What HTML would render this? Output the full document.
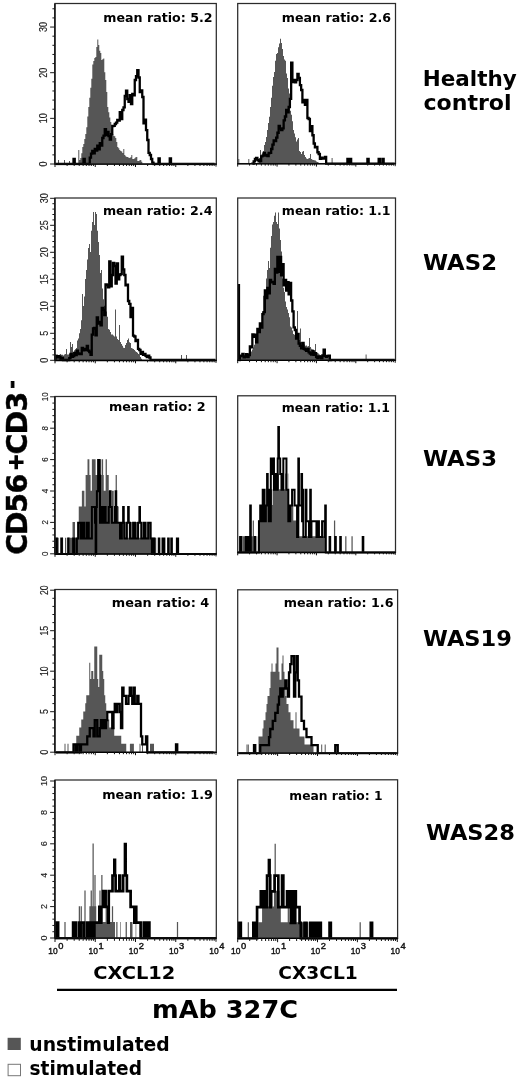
<!DOCTYPE html>
<html lang="en">
<head>
<meta charset="utf-8">
<title>CD56+CD3- chemotaxis histograms</title>
<style>
html,body{margin:0;padding:0;background:#fff;}
body{width:520px;height:1080px;overflow:hidden;}
svg{display:block;will-change:transform;}
text{font-family:"DejaVu Sans","Liberation Sans",sans-serif;font-weight:bold;fill:#000;}
.mr{font-size:12.1px;}
.nm{font-size:21px;}
.big{font-size:28.5px;stroke:#000;stroke-width:0.45px;}
.cx{font-size:18.2px;}
.mab{font-size:24.8px;}
.lg{font-size:19.6px;}
.tk{font-family:"Liberation Sans",sans-serif;font-weight:normal;fill:#222;stroke:#222;stroke-width:0.15px;}
.xl{font-family:"Liberation Sans",sans-serif;font-weight:normal;font-size:9.5px;fill:#111;stroke:#111;stroke-width:0.4px;}
.xs{font-family:"Liberation Sans",sans-serif;font-weight:normal;font-size:8.4px;fill:#111;stroke:#111;stroke-width:0.4px;}
</style>
</head>
<body>
<svg width="520" height="1080" viewBox="0 0 520 1080">
<rect width="520" height="1080" fill="#fff"/>
<g>
<clipPath id="cp00"><rect x="55" y="3.5" width="161.6" height="162.1"/></clipPath>
<g clip-path="url(#cp00)">
<path d="M57 163.7V163.7H58V160H59V163.7Z" fill="#565656"/>
<path d="M63 163.7V163.7H64V160H65V163.7Z" fill="#565656"/>
<path d="M68 163.7V163.7H69V161H70V163.7Z" fill="#565656"/>
<path d="M77.3 163.7V163.7H78.3V150H79.3V160H80.3V158H81.3V153.21H82.3V147H83.3V144.1H84.3V138.93H85.3V134H86.3V127.23H87.3V116.55H88.3V107H89.3V97.74H90.3V87.7H91.3V78.68H92.3V64.6H93.3V61.05H94.3V58H95.3V57H96.3V47H97.3V39.6H98.3V45H99.3V50.78H100.3V53H101.3V60H102.3V59.32H103.3V58.5H104.3V72.25H105.3V80H106.3V92.06H107.3V107H108.3V112.2H109.3V117.46H110.3V122H111.3V129.27H112.3V134H113.3V135.68H114.3V136.33H115.3V138H116.3V142H117.3V147H118.3V148.33H119.3V150H120.3V151.09H121.3V151.58H122.3V153H123.3V149H124.3V155H125.3V156.26H126.3V157H127.3V156.94H128.3V157.79H129.3V158H130.3V157.14H131.3V155H132.3V159H133.3V158.91H134.3V158.26H135.3V157.32H136.3V157H137.3V161H138.3V160.93H139.3V160.35H140.3V160H141.3V161.81H142.3V163.7Z" fill="#565656"/>
<path d="M56 164.3V164H57.25V164H58.5V164H59.75V164H61V164H62.25V164H63.5V164H64.75V164H66V164H67.25V164H68.5V164H69.75V164H71V164H72.25V164H73.5V158.89H74.75V164H76V164H77.25V164H78.5V164H79.75V164H81V164H82.25V164H83.5V159H84.75V164H86V164H87.25V164H88.5V164H89.75V157.54H91V153.59H92.25V151H93.5V153.35H94.75V148.8H96V150.56H97.25V145.76H98.5V149.24H99.75V143.2H101V145.51H102.25V138H103.5V135.63H104.75V129.19H106V135.03H107.25V132H108.5V136.13H109.75V139.6H111V134.16H112.25V126H113.5V125.79H114.75V124H116V122.69H117.25V120H118.5V120.59H119.75V112.13H121V119.11H122.25V110H123.5V107.47H124.75V96H126V90.56H127.25V99H128.5V101.91H129.75V95.1H131V104H132.25V94H133.5V95.47H134.75V80H136V76.25H137.25V70.13H138.5V77.48H139.75V92H141V90.32H142.25V97H143.5V123.28H144.75V119.77H146V130.18H147.25V140H148.5V152.9H149.75V155H151V159H152.25V162.57H153.5V164H154.75V164H156V164H157.25V164H158.5V158.5H159.75V164H161V164H162.25V164H163.5V164H164.75V164H166V164H167.25V164H168.5V164H169.75V158.5H171V164H172.25V164H173.5V164H174.75V164H176V164H177.25V164H178.5V164H179.75V164H181V164H182.25V164H183.5V164H184.75V164H186V164H187.25V164H188.5V164H189.75V164H191V164H192.25V164H193.5V164H194.75V164H196V164H197.25V164H198.5V164H199.75V164H201V164H202.25V164H203.5V164H204.75V164H206V164H207.25V164H208.5V164H209.75V164H211V164H212.25V164H213.5V164.3" fill="none" stroke="#000" stroke-width="2.3" stroke-linejoin="miter"/>
</g>
<rect x="55" y="3.5" width="161.3" height="160.5" fill="none" stroke="#2b2b2b" stroke-width="1.25"/>
<line x1="54.5" y1="164.2" x2="216.8" y2="164.2" stroke="#000" stroke-width="1.3"/>
<path d="M55 164v3M67.12 164v2M74.2 164v2M79.23 164v2M83.13 164v2M86.32 164v2M89.02 164v2M91.35 164v2M93.41 164v2M95.25 164v3M107.37 164v2M114.45 164v2M119.48 164v2M123.38 164v2M126.57 164v2M129.27 164v2M131.6 164v2M133.66 164v2M135.5 164v3M147.62 164v2M154.7 164v2M159.73 164v2M163.63 164v2M166.82 164v2M169.52 164v2M171.85 164v2M173.91 164v2M175.75 164v3M187.87 164v2M194.95 164v2M199.98 164v2M203.88 164v2M207.07 164v2M209.77 164v2M212.1 164v2M214.16 164v2M216 164v2.6" stroke="#111" stroke-width="1" fill="none"/>
</g>
<g>
<clipPath id="cp01"><rect x="237.7" y="3.5" width="158.1" height="161.7"/></clipPath>
<g clip-path="url(#cp01)">
<path d="M238.3 163.3V159H239.3V163.3H240.3V163.3Z" fill="#565656"/>
<path d="M248.3 163.3V159H249.3V163.3H250.3V163.3Z" fill="#565656"/>
<path d="M330.6 163.3V163.3H331.6V158H332.6V163.3Z" fill="#565656"/>
<path d="M258 163.3V163.3H259V158H260V150H261V157H262V153.26H263V151H264V145H265V142.02H266V137.03H267V130H268V123.05H269V116.64H270V107H271V97.7H272V85.8H273V76.97H274V72H275V60.8H276V54.05H277V53H278V47.3H279V43.53H280V38.7H281V43H282V49H283V56H284V59.39H285V60.8H286V73.53H287V78H288V88.44H289V93.5H290V110.8H291V114.64H292V121.21H293V130H294V133.61H295V137.29H296V141.5H297V139.5H298V138H299V151H300V152.05H301V154H302V151.79H303V151H304V155H305V156.93H306V158.46H307V159H308V158.61H309V158H310V154H311V159H312V159.75H313V159.95H314V160.26H315V160.5H316V161.45H317V162.1H318V162.44H319V162.99H320V163.3H321V163.3Z" fill="#565656"/>
<path d="M252.4 163.9V163.6H253.65V161.45H254.9V159H256.15V157.87H257.4V160H258.65V161.29H259.9V161H261.15V156.28H262.4V155.61H263.65V153H264.9V155.53H266.15V155H267.4V156.12H268.65V153H269.9V152.83H271.15V149H272.4V144.57H273.65V140.51H274.9V141.04H276.15V137.7H277.4V132.77H278.65V126H279.9V128.68H281.15V130H282.4V128.44H283.65V120.29H284.9V116.49H286.15V110H287.4V112.4H288.65V107H289.9V98.81H291.15V62.7H292.4V82.12H293.65V80H294.9V82.41H296.15V80H297.4V73.87H298.65V78H299.9V85.05H301.15V90H302.4V102.39H303.65V100H304.9V104.95H306.15V100H307.4V117.98H308.65V119H309.9V131.14H311.15V126.26H312.4V135.23H313.65V143.5H314.9V147.4H316.15V147H317.4V152.24H318.65V154H319.9V158.9H321.15V157.54H322.4V158.5H323.65V158.7H324.9V157H326.15V163.6H327.4V163.6H328.65V163.6H329.9V163.6H331.15V163.6H332.4V163.6H333.65V163.6H334.9V163.6H336.15V163.6H337.4V163.6H338.65V163.6H339.9V163.6H341.15V163.6H342.4V163.6H343.65V163.6H344.9V163.6H346.15V163.6H347.4V158.8H348.65V163.6H349.9V158.8H351.15V163.6H352.4V163.6H353.65V163.6H354.9V163.6H356.15V163.6H357.4V163.6H358.65V163.6H359.9V163.6H361.15V163.6H362.4V163.6H363.65V163.6H364.9V163.6H366.15V163.6H367.4V158.8H368.65V163.6H369.9V163.6H371.15V163.6H372.4V163.6H373.65V163.6H374.9V163.6H376.15V163.6H377.4V163.6H378.65V158.8H379.9V163.6H381.15V163.6H382.4V158.8H383.65V163.6H384.9V163.6H386.15V163.6H387.4V163.6H388.65V163.6H389.9V163.6H391.15V163.6H392.4V163.6H393.65V163.9" fill="none" stroke="#000" stroke-width="2.3" stroke-linejoin="miter"/>
</g>
<rect x="237.7" y="3.5" width="157.8" height="160.1" fill="none" stroke="#2b2b2b" stroke-width="1.25"/>
<line x1="237.2" y1="163.8" x2="396" y2="163.8" stroke="#000" stroke-width="1.3"/>
<path d="M237.7 163.6v3M249.55 163.6v2M256.49 163.6v2M261.41 163.6v2M265.22 163.6v2M268.34 163.6v2M270.98 163.6v2M273.26 163.6v2M275.27 163.6v2M277.07 163.6v3M288.93 163.6v2M295.86 163.6v2M300.78 163.6v2M304.6 163.6v2M307.71 163.6v2M310.35 163.6v2M312.63 163.6v2M314.65 163.6v2M316.45 163.6v3M328.3 163.6v2M335.24 163.6v2M340.16 163.6v2M343.97 163.6v2M347.09 163.6v2M349.73 163.6v2M352.01 163.6v2M354.02 163.6v2M355.82 163.6v3M367.68 163.6v2M374.61 163.6v2M379.53 163.6v2M383.35 163.6v2M386.46 163.6v2M389.1 163.6v2M391.38 163.6v2M393.4 163.6v2M395.2 163.6v2.6" stroke="#111" stroke-width="1" fill="none"/>
</g>
<g>
<clipPath id="cp10"><rect x="55" y="198" width="161.6" height="163.9"/></clipPath>
<g clip-path="url(#cp10)">
<path d="M55 360V354H56V354.7H57V354.76H58V355H59V354.66H60V354H61V354.73H62V354.87H63V355.5H64V354.45H65V354.08H66V349H67V354.5H68V354.42H69V354H70V342H71V347H72V344H73V352H74V350.37H75V349.14H76V348H77V340.45H78V338.5H79V333.35H80V329H81V320.2H82V294H83V306H84V296.54H85V279H86V270H87V259.6H88V248H89V244H90V252H91V230.8H92V222H93V212H94V225H95V212H96V214H97V230.8H98V242H99V255H100V273H101V270H102V288.5H103V299.3H104V305.8H105V307.73H106V311.5H107V316.82H108V329H109V329.86H110V331.9H111V334.6H112V334.62H113V335.42H114V336.5H115V309.6H116V336.5H117V338.9H118V340H119V325H120V342H121V343.92H122V345.77H123V347.8H124V348H125V344.92H126V343H127V339.98H128V338.5H129V342.24H130V343H131V348H132V348.4H133V349.01H134V350H135V351.21H136V352H137V352.71H138V353.96H139V355H140V356.93H141V358.73H142V360Z" fill="#565656"/>
<path d="M180 360V360H181V355H182V360Z" fill="#565656"/>
<path d="M185 360V360H186V355H187V360Z" fill="#565656"/>
<path d="M55.5 360.6V356H56.75V357.26H58V356.15H59.25V357H60.5V359.28H61.75V357.85H63V360H64.25V360H65.5V360H66.75V360H68V360H69.25V358.06H70.5V354H71.75V356.79H73V356H74.25V352.92H75.5V355.16H76.75V350.66H78V353.32H79.25V354H80.5V354.2H81.75V348H83V350.24H84.25V349H85.5V349.98H86.75V346H88V350.54H89.25V352H90.5V354.8H91.75V334.6H93V328.49H94.25V328H95.5V335.27H96.75V317.51H98V323.57H99.25V322H100.5V325.42H101.75V307.86H103V309.85H104.25V315H105.5V284.51H106.75V285H108V287.35H109.25V261.5H110.5V286.26H111.75V275H113V262.83H114.25V266H115.5V283.48H116.75V263.5H118V279.32H119.25V275H120.5V274.11H121.75V256.7H123V269.47H124.25V275H125.5V285.35H126.75V284.6H128V301.01H129.25V303.96H130.5V317.06H131.75V308H133V335.53H134.25V336.5H135.5V341.01H136.75V340H138V348.79H139.25V350H140.5V353.97H141.75V352H143V354.87H144.25V353.94H145.5V355.8H146.75V357.05H148V355.67H149.25V357.5H150.5V360H151.75V360H153V360H154.25V360H155.5V360H156.75V360H158V360H159.25V360H160.5V360H161.75V360H163V360H164.25V360H165.5V360H166.75V360H168V360H169.25V360H170.5V360H171.75V360H173V360H174.25V360H175.5V360H176.75V360H178V360H179.25V360H180.5V360H181.75V360H183V360H184.25V360H185.5V360H186.75V360H188V360H189.25V360H190.5V360H191.75V360H193V360H194.25V360H195.5V360H196.75V360H198V360H199.25V360H200.5V360H201.75V360H203V360H204.25V360H205.5V360H206.75V360H208V360H209.25V360H210.5V360H211.75V360H213V360H214.25V360.6" fill="none" stroke="#000" stroke-width="2.3" stroke-linejoin="miter"/>
</g>
<rect x="55" y="198" width="161.3" height="162.3" fill="none" stroke="#2b2b2b" stroke-width="1.25"/>
<line x1="54.5" y1="360.5" x2="216.8" y2="360.5" stroke="#000" stroke-width="1.3"/>
<path d="M55 360.3v3M67.12 360.3v2M74.2 360.3v2M79.23 360.3v2M83.13 360.3v2M86.32 360.3v2M89.02 360.3v2M91.35 360.3v2M93.41 360.3v2M95.25 360.3v3M107.37 360.3v2M114.45 360.3v2M119.48 360.3v2M123.38 360.3v2M126.57 360.3v2M129.27 360.3v2M131.6 360.3v2M133.66 360.3v2M135.5 360.3v3M147.62 360.3v2M154.7 360.3v2M159.73 360.3v2M163.63 360.3v2M166.82 360.3v2M169.52 360.3v2M171.85 360.3v2M173.91 360.3v2M175.75 360.3v3M187.87 360.3v2M194.95 360.3v2M199.98 360.3v2M203.88 360.3v2M207.07 360.3v2M209.77 360.3v2M212.1 360.3v2M214.16 360.3v2M216 360.3v2.6" stroke="#111" stroke-width="1" fill="none"/>
</g>
<g>
<clipPath id="cp11"><rect x="237.7" y="198" width="158.1" height="163.8"/></clipPath>
<g clip-path="url(#cp11)">
<path d="M238 359.9V355H239V355.44H240V355.38H241V355.38H242V355.69H243V356.03H244V356H245V355.71H246V355.5H247V355.15H248V355.49H249V355H250V353.01H251V351.41H252V349.6H253V347.44H254V344.73H255V343.05H256V340.92H257V340H258V333.03H259V328.36H260V324.98H261V322.7H262V311.39H263V295.8H264V305H265V296.62H266V278.5H267V270H268V261H269V268H270V247.7H271V236H272V224.6H273V222H274V215.84H275V212.5H276V222H277V224H278V212.5H279V228.5H280V240H281V251.5H282V278.5H283V287.66H284V292H285V301.51H286V307H287V309.56H288V313H289V317.31H290V326.5H291V327.42H292V330.51H293V334H294V334.72H295V336.37H296V338H297V311H298V338H299V340H300V328.5H301V342H302V343.45H303V344.01H304V344.49H305V345.8H306V345.43H307V346.45H308V346H309V338H310V347H311V348.76H312V349.23H313V349.6H314V351H315V344H316V352H317V352.97H318V353.58H319V354.5H320V355H321V355.18H322V355.44H323V356H324V349.6H325V356H326V356.45H327V357.6H328V358H329V358.81H330V359.51H331V359.9Z" fill="#565656"/>
<path d="M364.6 359.9V359.9H365.6V354.5H366.6V359.9Z" fill="#565656"/>
<path d="M238.6 360.5V360H239.85V356H241.1V355.61H242.35V354H243.6V357.47H244.85V356.5H246.1V354.09H247.35V357.22H248.6V355H249.85V346.52H251.1V347.27H252.35V334.43H253.6V336.82H254.85V334.74H256.1V342.29H257.35V328.81H258.6V332.13H259.85V323.35H261.1V327.69H262.35V314.04H263.6V312.17H264.85V290.33H266.1V298.09H267.35V288H268.6V293.31H269.85V280H271.1V282.39H272.35V282H273.6V283.73H274.85V269H276.1V272.71H277.35V257H278.6V271.86H279.85V257H281.1V275.28H282.35V264.24H283.6V285.32H284.85V280H286.1V290.69H287.35V282.13H288.6V294.31H289.85V282.96H291.1V300.51H292.35V311.39H293.6V327.28H294.85V330H296.1V338.48H297.35V334H298.6V343.49H299.85V345.8H301.1V348.42H302.35V343H303.6V348.74H304.85V349.6H306.1V350.77H307.35V349H308.6V352.37H309.85V353.5H311.1V354.61H312.35V351.23H313.6V354.74H314.85V353.12H316.1V357H317.35V358.19H318.6V356.43H319.85V357H321.1V358.37H322.35V355.5H323.6V349.6H324.85V356H326.1V356.84H327.35V356H328.6V355.65H329.85V360.35H331.1V360H332.35V360H333.6V360H334.85V360H336.1V360H337.35V360H338.6V360H339.85V360H341.1V360H342.35V360H343.6V360H344.85V360H346.1V360H347.35V360H348.6V360H349.85V360H351.1V360H352.35V360H353.6V360H354.85V360H356.1V360H357.35V360H358.6V360H359.85V360H361.1V360H362.35V360H363.6V360H364.85V360H366.1V360H367.35V360H368.6V360H369.85V360H371.1V360H372.35V360H373.6V360H374.85V360H376.1V360H377.35V360H378.6V360H379.85V360H381.1V360H382.35V360H383.6V360H384.85V360H386.1V360H387.35V360H388.6V360H389.85V360H391.1V360H392.35V360H393.6V360.5" fill="none" stroke="#000" stroke-width="2.3" stroke-linejoin="miter"/>
<rect x="237.9" y="284" width="2.2" height="76" fill="#000"/>
</g>
<rect x="237.7" y="198" width="157.8" height="162.2" fill="none" stroke="#2b2b2b" stroke-width="1.25"/>
<line x1="237.2" y1="360.4" x2="396" y2="360.4" stroke="#000" stroke-width="1.3"/>
<path d="M237.7 360.2v3M249.55 360.2v2M256.49 360.2v2M261.41 360.2v2M265.22 360.2v2M268.34 360.2v2M270.98 360.2v2M273.26 360.2v2M275.27 360.2v2M277.07 360.2v3M288.93 360.2v2M295.86 360.2v2M300.78 360.2v2M304.6 360.2v2M307.71 360.2v2M310.35 360.2v2M312.63 360.2v2M314.65 360.2v2M316.45 360.2v3M328.3 360.2v2M335.24 360.2v2M340.16 360.2v2M343.97 360.2v2M347.09 360.2v2M349.73 360.2v2M352.01 360.2v2M354.02 360.2v2M355.82 360.2v3M367.68 360.2v2M374.61 360.2v2M379.53 360.2v2M383.35 360.2v2M386.46 360.2v2M389.1 360.2v2M391.38 360.2v2M393.4 360.2v2M395.2 360.2v2.6" stroke="#111" stroke-width="1" fill="none"/>
</g>
<g>
<clipPath id="cp20"><rect x="55" y="396.5" width="161.6" height="158.9"/></clipPath>
<g clip-path="url(#cp20)">
<path d="M55 553.5V553.5H55.62H56.25V537.8H56.88H57.5H58.12H58.75V553.5H59.38H60H60.62H61.25H61.88V537.8H62.5H63.12V553.5H63.75H64.38H65V537.8H65.62H66.25V553.5H66.88H67.5H68.12V537.8H68.75H69.38V553.5H70V537.8H70.62H71.25H71.88H72.5V522.1H73.12H73.75H74.38H75V537.8H75.62H76.25H76.88H77.5H78.12V522.1H78.75V506.4H79.38H80H80.62H81.25H81.88V490.7H82.5H83.12H83.75H84.38V506.4H85H85.62V475H86.25H86.88H87.5V459.3H88.12H88.75H89.38V475H90H90.62V490.7H91.25H91.88V459.3H92.5H93.12H93.75H94.38H95H95.62V475H96.25H96.88H97.5H98.12V459.3H98.75H99.38H100H100.62H101.25V475H101.88V459.3H102.5H103.12V475H103.75V490.7H104.38H105H105.62V459.3H106.25H106.88V475H107.5H108.12H108.75V490.7H109.38H110H110.62V506.4H111.25H111.88V490.7H112.5H113.12H113.75V522.1H114.38H115V506.4H115.62V475H116.25H116.88V522.1H117.5H118.12V506.4H118.75V522.1H119.38V537.8H120H120.62H121.25H121.88H122.5V522.1H123.12H123.75H124.38H125H125.62V537.8H126.25H126.88H127.5H128.12H128.75V522.1H129.38H130V537.8H130.62V522.1H131.25H131.88V537.8H132.5V522.1H133.12H133.75H134.38H135V537.8H135.62V522.1H136.25H136.88H137.5H138.12H138.75V537.8H139.38H140H140.62H141.25V522.1H141.88V537.8H142.5V522.1H143.12H143.75H144.38H145H145.62V537.8H146.25H146.88H147.5H148.12H148.75V522.1H149.38H150H150.62H151.25V537.8H151.88H152.5H153.12H153.75H154.38H155H155.62H156.25V553.5H156.88H157.5H158.12H158.75H159.38H160H160.62H161.25H161.88H162.5H163.12H163.75H164.38H165H165.62H166.25H166.88H167.5H168.12H168.75H169.38H170H170.62H171.25H171.88H172.5H173.12H173.75H174.38H175H175.62H176.25H176.88H177.5H178.12H178.75H179.38H180H180.62H181.25H181.88H182.5H183.12H183.75H184.38H185H185.62H186.25H186.88H187.5H188.12H188.75H189.38H190H190.62H191.25H191.88H192.5H193.12H193.75H194.38H195H195.62H196.25H196.88H197.5H198.12H198.75H199.38H200H200.62H201.25H201.88H202.5H203.12H203.75H204.38H205H205.62H206.25H206.88H207.5H208.12H208.75H209.38H210H210.62H211.25H211.88H212.5H213.12H213.75H214.38H215H215.62H216.25V553.5Z" fill="#565656"/>
<path d="M55 554.1V554.1H55.62V538.4H56.25H56.88V554.1H57.5H58.12H58.75H59.38H60H60.62H61.25V538.4H61.88V554.1H62.5H63.12H63.75H64.38H65H65.62H66.25H66.88H67.5H68.12V538.4H68.75V554.1H69.38H70H70.62H71.25H71.88H72.5H73.12V538.4H73.75H74.38V554.1H75H75.62H76.25H76.88V538.4H77.5H78.12V522.7H78.75H79.38H80H80.62V538.4H81.25H81.88H82.5V522.7H83.12H83.75H84.38V538.4H85H85.62H86.25H86.88V522.7H87.5H88.12H88.75V538.4H89.38H90H90.62H91.25H91.88V507H92.5H93.12H93.75H94.38H95V522.7H95.62V554.1H96.25V507H96.88V491.3H97.5H98.12V459.9H98.75H99.38V475.6H100V522.7H100.62H101.25V507H101.88H102.5H103.12V522.7H103.75H104.38V507H105H105.62V522.7H106.25H106.88H107.5H108.12H108.75V507H109.38H110V491.3H110.62V507H111.25H111.88V522.7H112.5H113.12H113.75H114.38H115V507H115.62V491.3H116.25V507H116.88V522.7H117.5H118.12H118.75H119.38H120V538.4H120.62H121.25H121.88V522.7H122.5H123.12V507H123.75V522.7H124.38V538.4H125H125.62H126.25H126.88V522.7H127.5H128.12V507H128.75V522.7H129.38H130V538.4H130.62H131.25H131.88H132.5H133.12V522.7H133.75H134.38H135V538.4H135.62H136.25H136.88H137.5H138.12V522.7H138.75H139.38V507H140V522.7H140.62H141.25V538.4H141.88H142.5H143.12H143.75V522.7H144.38H145H145.62V538.4H146.25H146.88H147.5H148.12V522.7H148.75H149.38H150H150.62V538.4H151.25H151.88V554.1H152.5V538.4H153.12H153.75H154.38V554.1H155H155.62H156.25H156.88H157.5H158.12H158.75V538.4H159.38V554.1H160H160.62H161.25H161.88H162.5V538.4H163.12H163.75H164.38V554.1H165H165.62H166.25H166.88H167.5H168.12V538.4H168.75V554.1H169.38H170H170.62H171.25V538.4H171.88V554.1H172.5H173.12H173.75H174.38H175H175.62H176.25H176.88V538.4H177.5H178.12V554.1H178.75H179.38H180H180.62H181.25H181.88H182.5H183.12H183.75H184.38H185H185.62H186.25H186.88H187.5H188.12H188.75H189.38H190H190.62H191.25H191.88H192.5H193.12H193.75H194.38H195H195.62H196.25H196.88H197.5H198.12H198.75H199.38H200H200.62H201.25H201.88H202.5H203.12H203.75H204.38H205H205.62H206.25H206.88H207.5H208.12H208.75H209.38H210H210.62H211.25H211.88H212.5H213.12H213.75H214.38H215H215.62H216.25V554.1" fill="none" stroke="#000" stroke-width="2" stroke-linejoin="miter"/>
</g>
<rect x="55" y="396.5" width="161.3" height="157.3" fill="none" stroke="#2b2b2b" stroke-width="1.25"/>
<line x1="54.5" y1="554" x2="216.8" y2="554" stroke="#000" stroke-width="1.3"/>
<path d="M55 553.8v3M67.12 553.8v2M74.2 553.8v2M79.23 553.8v2M83.13 553.8v2M86.32 553.8v2M89.02 553.8v2M91.35 553.8v2M93.41 553.8v2M95.25 553.8v3M107.37 553.8v2M114.45 553.8v2M119.48 553.8v2M123.38 553.8v2M126.57 553.8v2M129.27 553.8v2M131.6 553.8v2M133.66 553.8v2M135.5 553.8v3M147.62 553.8v2M154.7 553.8v2M159.73 553.8v2M163.63 553.8v2M166.82 553.8v2M169.52 553.8v2M171.85 553.8v2M173.91 553.8v2M175.75 553.8v3M187.87 553.8v2M194.95 553.8v2M199.98 553.8v2M203.88 553.8v2M207.07 553.8v2M209.77 553.8v2M212.1 553.8v2M214.16 553.8v2M216 553.8v2.6" stroke="#111" stroke-width="1" fill="none"/>
</g>
<g>
<clipPath id="cp21"><rect x="237.7" y="395.8" width="158.1" height="158.1"/></clipPath>
<g clip-path="url(#cp21)">
<path d="M237.7 552V552H238.32H238.95V536.3H239.57H240.2H240.82H241.45V552H242.07H242.7V536.3H243.32H243.95H244.57H245.2V552H245.82H246.45H247.07H247.7V536.3H248.32V552H248.95H249.57H250.2H250.82V536.3H251.45H252.07H252.7V520.6H253.32H253.95V552H254.57H255.2H255.82V536.3H256.45V552H257.07H257.7V536.3H258.32V520.6H258.95H259.57H260.2H260.82H261.45H262.07V504.9H262.7H263.32H263.95H264.57H265.2H265.82H266.45H267.07H267.7H268.32H268.95H269.57H270.2H270.82V489.2H271.45H272.07V504.9H272.7V489.2H273.32V457.8H273.95H274.57V489.2H275.2H275.82V473.5H276.45H277.07H277.7H278.32H278.95V489.2H279.57H280.2H280.82H281.45V473.5H282.07H282.7H283.32H283.95V489.2H284.57H285.2V473.5H285.82H286.45V489.2H287.07H287.7V473.5H288.32V504.9H288.95H289.57H290.2H290.82H291.45H292.07H292.7H293.32V520.6H293.95H294.57H295.2H295.82H296.45H297.07H297.7H298.32V536.3H298.95H299.57H300.2H300.82H301.45H302.07H302.7H303.32H303.95H304.57H305.2H305.82H306.45H307.07H307.7H308.32H308.95H309.57H310.2H310.82H311.45H312.07H312.7H313.32H313.95H314.57H315.2H315.82H316.45H317.07H317.7H318.32H318.95H319.57H320.2H320.82H321.45H322.07H322.7H323.32H323.95H324.57H325.2H325.82V552H326.45H327.07H327.7H328.32H328.95H329.57H330.2H330.82H331.45H332.07H332.7H333.32H333.95V520.6H334.57H335.2V552H335.82H336.45H337.07H337.7H338.32H338.95H339.57H340.2H340.82H341.45H342.07H342.7H343.32H343.95H344.57H345.2V536.3H345.82H346.45V552H347.07H347.7H348.32H348.95H349.57H350.2H350.82H351.45V536.3H352.07H352.7V552H353.32H353.95H354.57H355.2H355.82H356.45H357.07H357.7H358.32H358.95H359.57H360.2H360.82H361.45H362.07H362.7H363.32H363.95H364.57H365.2H365.82H366.45H367.07H367.7H368.32H368.95H369.57H370.2H370.82H371.45H372.07H372.7H373.32H373.95H374.57H375.2H375.82H376.45H377.07H377.7H378.32H378.95H379.57H380.2H380.82H381.45H382.07H382.7H383.32H383.95H384.57H385.2H385.82H386.45H387.07H387.7H388.32H388.95H389.57H390.2H390.82H391.45H392.07H392.7H393.32H393.95H394.57H395.2V552Z" fill="#565656"/>
<path d="M237.7 552.6V552.6H238.32H238.95H239.57H240.2V536.9H240.82H241.45V552.6H242.07H242.7H243.32H243.95H244.57H245.2H245.82V536.9H246.45H247.07V552.6H247.7H248.32H248.95V536.9H249.57H250.2V505.5H250.82V552.6H251.45H252.07H252.7H253.32H253.95H254.57V536.9H255.2V552.6H255.82H256.45H257.07H257.7H258.32H258.95V521.2H259.57H260.2V505.5H260.82H261.45H262.07V521.2H262.7V489.8H263.32H263.95H264.57V521.2H265.2H265.82V505.5H266.45H267.07V474.1H267.7V489.8H268.32H268.95V521.2H269.57H270.2H270.82V458.4H271.45V474.1H272.07H272.7H273.32V458.4H273.95V489.8H274.57V474.1H275.2H275.82V489.8H276.45H277.07H277.7V458.4H278.32V427H278.95V458.4H279.57H280.2V474.1H280.82H281.45V489.8H282.07H282.7H283.32V458.4H283.95H284.57H285.2H285.82H286.45V489.8H287.07H287.7H288.32V521.2H288.95H289.57H290.2V505.5H290.82H291.45H292.07V489.8H292.7H293.32H293.95H294.57V505.5H295.2H295.82H296.45H297.07V536.9H297.7H298.32V458.4H298.95V505.5H299.57H300.2H300.82H301.45V474.1H302.07V521.2H302.7V489.8H303.32V536.9H303.95H304.57H305.2H305.82V489.8H306.45V521.2H307.07H307.7H308.32H308.95V536.9H309.57H310.2V489.8H310.82V536.9H311.45V521.2H312.07H312.7H313.32H313.95H314.57H315.2H315.82H316.45V536.9H317.07H317.7V521.2H318.32H318.95V536.9H319.57H320.2H320.82H321.45H322.07V521.2H322.7H323.32H323.95H324.57V536.9H325.2V505.5H325.82V552.6H326.45H327.07H327.7H328.32H328.95H329.57V536.9H330.2V552.6H330.82H331.45H332.07H332.7H333.32H333.95H334.57H335.2V536.9H335.82V552.6H336.45H337.07H337.7H338.32H338.95H339.57H340.2V536.9H340.82V552.6H341.45H342.07H342.7H343.32H343.95H344.57H345.2H345.82H346.45H347.07H347.7H348.32H348.95H349.57H350.2H350.82H351.45H352.07H352.7H353.32H353.95H354.57H355.2H355.82H356.45H357.07H357.7H358.32H358.95H359.57H360.2H360.82H361.45H362.07H362.7V536.9H363.32V552.6H363.95H364.57H365.2H365.82H366.45H367.07H367.7H368.32H368.95H369.57H370.2H370.82H371.45H372.07H372.7H373.32H373.95H374.57H375.2H375.82H376.45H377.07H377.7H378.32H378.95H379.57H380.2H380.82H381.45H382.07H382.7H383.32H383.95H384.57H385.2H385.82H386.45H387.07H387.7H388.32H388.95H389.57H390.2H390.82H391.45H392.07H392.7H393.32H393.95H394.57H395.2V552.6" fill="none" stroke="#000" stroke-width="2" stroke-linejoin="miter"/>
</g>
<rect x="237.7" y="395.8" width="157.8" height="156.5" fill="none" stroke="#2b2b2b" stroke-width="1.25"/>
<line x1="237.2" y1="552.5" x2="396" y2="552.5" stroke="#000" stroke-width="1.3"/>
<path d="M237.7 552.3v3M249.55 552.3v2M256.49 552.3v2M261.41 552.3v2M265.22 552.3v2M268.34 552.3v2M270.98 552.3v2M273.26 552.3v2M275.27 552.3v2M277.07 552.3v3M288.93 552.3v2M295.86 552.3v2M300.78 552.3v2M304.6 552.3v2M307.71 552.3v2M310.35 552.3v2M312.63 552.3v2M314.65 552.3v2M316.45 552.3v3M328.3 552.3v2M335.24 552.3v2M340.16 552.3v2M343.97 552.3v2M347.09 552.3v2M349.73 552.3v2M352.01 552.3v2M354.02 552.3v2M355.82 552.3v3M367.68 552.3v2M374.61 552.3v2M379.53 552.3v2M383.35 552.3v2M386.46 552.3v2M389.1 552.3v2M391.38 552.3v2M393.4 552.3v2M395.2 552.3v2.6" stroke="#111" stroke-width="1" fill="none"/>
</g>
<g>
<clipPath id="cp30"><rect x="55" y="589.5" width="161.6" height="164.3"/></clipPath>
<g clip-path="url(#cp30)">
<path d="M63.5 751.9V751.9H64.5V743.8H65.5V751.9Z" fill="#565656"/>
<path d="M66.5 751.9V751.9H67.5V743.8H68.5V751.9Z" fill="#565656"/>
<path d="M73.25 751.9V743.8H74.25V743.8H75.25V743.8H76.25V735.7H77.25V735.7H78.25V735.7H79.25V727.6H80.25V727.6H81.25V719.5H82.25V719.5H83.25V711.4H84.25V711.4H85.25V703.3H86.25V695.2H87.25V695.2H88.25V695.2H89.25V662.8H90.25V679H91.25V670.9H92.25V670.9H93.25V679H94.25V646.6H95.25V646.6H96.25V646.6H97.25V679H98.25V687.1H99.25V654.7H100.25V654.7H101.25V654.7H102.25V670.9H103.25V679H104.25V695.2H105.25V703.3H106.25V719.5H107.25V719.5H108.25V719.5H109.25V727.6H110.25V727.6H111.25V727.6H112.25V727.6H113.25V727.6H114.25V735.7H115.25V735.7H116.25V735.7H117.25V735.7H118.25V735.7H119.25V735.7H120.25V735.7H121.25V743.8H122.25V743.8H123.25V743.8H124.25V743.8H125.25V743.8H126.25V751.9H127.25V751.9Z" fill="#565656"/>
<path d="M129.9 751.9V743.8H130.9V743.8H131.9V743.8H132.9V743.8H133.9V751.9Z" fill="#565656"/>
<path d="M138.5 751.9V751.9H139.5V743.8H140.5V751.9Z" fill="#565656"/>
<path d="M141 751.9V751.9H142V743.8H143V751.9Z" fill="#565656"/>
<path d="M150 751.9V743.8H151V743.8H152V743.8H153V743.8H154V751.9Z" fill="#565656"/>
<path d="M175.3 751.9V743.8H176.3V751.9H177.3V751.9Z" fill="#565656"/>
<path d="M56 752.5V752.5H57.25V752.5H58.5V752.5H59.75V752.5H61V752.5H62.25V752.5H63.5V752.5H64.75V752.5H66V752.5H67.25V752.5H68.5V752.5H69.75V752.5H71V752.5H72.25V752.5H73.5V744.4H74.75V744.4H76V752.5H77.25V744.4H78.5V744.4H79.75V752.5H81V744.4H82.25V744.4H83.5V744.4H84.75V744.4H86V744.4H87.25V736.3H88.5V736.3H89.75V728.2H91V728.2H92.25V728.2H93.5V736.3H94.75V720.1H96V720.1H97.25V736.3H98.5V736.3H99.75V728.2H101V720.1H102.25V728.2H103.5V720.1H104.75V728.2H106V720.1H107.25V712H108.5V712H109.75V712H111V712H112.25V728.2H113.5V712H114.75V703.9H116V712H117.25V703.9H118.5V703.9H119.75V712H121V728.2H122.25V687.7H123.5V695.8H124.75V695.8H126V703.9H127.25V703.9H128.5V695.8H129.75V687.7H131V695.8H132.25V703.9H133.5V687.7H134.75V703.9H136V703.9H137.25V695.8H138.5V703.9H139.75V703.9H141V736.3H142.25V744.4H143.5V744.4H144.75V744.4H146V736.3H147.25V752.5H148.5V752.5H149.75V752.5H151V752.5H152.25V752.5H153.5V752.5H154.75V752.5H156V752.5H157.25V752.5H158.5V752.5H159.75V752.5H161V752.5H162.25V752.5H163.5V752.5H164.75V752.5H166V752.5H167.25V752.5H168.5V752.5H169.75V752.5H171V752.5H172.25V752.5H173.5V752.5H174.75V752.5H176V744.4H177.25V752.5H178.5V752.5H179.75V752.5H181V752.5H182.25V752.5H183.5V752.5H184.75V752.5H186V752.5H187.25V752.5H188.5V752.5H189.75V752.5H191V752.5H192.25V752.5H193.5V752.5H194.75V752.5H196V752.5H197.25V752.5H198.5V752.5H199.75V752.5H201V752.5H202.25V752.5H203.5V752.5H204.75V752.5H206V752.5H207.25V752.5H208.5V752.5H209.75V752.5H211V752.5H212.25V752.5H213.5V752.5" fill="none" stroke="#000" stroke-width="2.3" stroke-linejoin="miter"/>
</g>
<rect x="55" y="589.5" width="161.3" height="162.7" fill="none" stroke="#2b2b2b" stroke-width="1.25"/>
<line x1="54.5" y1="752.4" x2="216.8" y2="752.4" stroke="#000" stroke-width="1.3"/>
<path d="M55 752.2v3M67.12 752.2v2M74.2 752.2v2M79.23 752.2v2M83.13 752.2v2M86.32 752.2v2M89.02 752.2v2M91.35 752.2v2M93.41 752.2v2M95.25 752.2v3M107.37 752.2v2M114.45 752.2v2M119.48 752.2v2M123.38 752.2v2M126.57 752.2v2M129.27 752.2v2M131.6 752.2v2M133.66 752.2v2M135.5 752.2v3M147.62 752.2v2M154.7 752.2v2M159.73 752.2v2M163.63 752.2v2M166.82 752.2v2M169.52 752.2v2M171.85 752.2v2M173.91 752.2v2M175.75 752.2v3M187.87 752.2v2M194.95 752.2v2M199.98 752.2v2M203.88 752.2v2M207.07 752.2v2M209.77 752.2v2M212.1 752.2v2M214.16 752.2v2M216 752.2v2.6" stroke="#111" stroke-width="1" fill="none"/>
</g>
<g>
<clipPath id="cp31"><rect x="237.7" y="589.8" width="160.2" height="164.8"/></clipPath>
<g clip-path="url(#cp31)">
<path d="M245.5 752.7V752.7H246.5V744.6H247.5V752.7Z" fill="#565656"/>
<path d="M247.8 752.7V744.6H248.8V752.7H249.8V752.7Z" fill="#565656"/>
<path d="M253.2 752.7V744.6H254.2V752.7H255.2V752.7Z" fill="#565656"/>
<path d="M258.5 752.7V736.5H259.5V736.5H260.5V736.5H261.5V736.5H262.5V728.4H263.5V720.3H264.5V720.3H265.5V712.2H266.5V704.1H267.5V696H268.5V696H269.5V687.9H270.5V671.7H271.5V663.6H272.5V671.7H273.5V671.7H274.5V671.7H275.5V663.6H276.5V647.4H277.5V647.4H278.5V671.7H279.5V679.8H280.5V679.8H281.5V663.6H282.5V655.5H283.5V671.7H284.5V687.9H285.5V696H286.5V704.1H287.5V704.1H288.5V712.2H289.5V712.2H290.5V720.3H291.5V720.3H292.5V720.3H293.5V728.4H294.5V728.4H295.5V712.2H296.5V728.4H297.5V728.4H298.5V728.4H299.5V736.5H300.5V736.5H301.5V736.5H302.5V736.5H303.5V736.5H304.5V744.6H305.5V744.6H306.5V744.6H307.5V744.6H308.5V744.6H309.5V744.6H310.5V744.6H311.5V744.6H312.5V744.6H313.5V752.7H314.5V752.7H315.5V752.7H316.5V752.7Z" fill="#565656"/>
<path d="M321.2 752.7V744.6H322.2V752.7H323.2V752.7Z" fill="#565656"/>
<path d="M324.7 752.7V744.6H325.7V752.7H326.7V752.7Z" fill="#565656"/>
<path d="M239 753.3V753.3H240.25V753.3H241.5V753.3H242.75V753.3H244V753.3H245.25V753.3H246.5V753.3H247.75V753.3H249V753.3H250.25V753.3H251.5V753.3H252.75V753.3H254V745.2H255.25V753.3H256.5V753.3H257.75V753.3H259V753.3H260.25V745.2H261.5V745.2H262.75V745.2H264V745.2H265.25V745.2H266.5V745.2H267.75V745.2H269V737.1H270.25V729H271.5V729H272.75V720.9H274V720.9H275.25V712.8H276.5V712.8H277.75V704.7H279V696.6H280.25V688.5H281.5V696.6H282.75V688.5H284V688.5H285.25V680.4H286.5V688.5H287.75V696.6H289V672.3H290.25V664.2H291.5V656.1H292.75V656.1H294V696.6H295.25V672.3H296.5V656.1H297.75V680.4H299V696.6H300.25V696.6H301.5V720.9H302.75V720.9H304V729H305.25V729H306.5V737.1H307.75V737.1H309V737.1H310.25V737.1H311.5V745.2H312.75V745.2H314V745.2H315.25V745.2H316.5V745.2H317.75V753.3H319V753.3H320.25V753.3H321.5V753.3H322.75V753.3H324V753.3H325.25V753.3H326.5V753.3H327.75V753.3H329V753.3H330.25V753.3H331.5V753.3H332.75V753.3H334V753.3H335.25V745.2H336.5V745.2H337.75V753.3H339V753.3H340.25V753.3H341.5V753.3H342.75V753.3H344V753.3H345.25V753.3H346.5V753.3H347.75V753.3H349V753.3H350.25V753.3H351.5V753.3H352.75V753.3H354V753.3H355.25V753.3H356.5V753.3H357.75V753.3H359V753.3H360.25V753.3H361.5V753.3H362.75V753.3H364V753.3H365.25V753.3H366.5V753.3H367.75V753.3H369V753.3H370.25V753.3H371.5V753.3H372.75V753.3H374V753.3H375.25V753.3H376.5V753.3H377.75V753.3H379V753.3H380.25V753.3H381.5V753.3H382.75V753.3H384V753.3H385.25V753.3H386.5V753.3H387.75V753.3H389V753.3H390.25V753.3H391.5V753.3H392.75V753.3H394V753.3H395.25V753.3H396.5V753.3" fill="none" stroke="#000" stroke-width="2.3" stroke-linejoin="miter"/>
</g>
<rect x="237.7" y="589.8" width="159.9" height="163.2" fill="none" stroke="#2b2b2b" stroke-width="1.25"/>
<line x1="237.2" y1="753.2" x2="398.1" y2="753.2" stroke="#000" stroke-width="1.3"/>
<path d="M237.7 753v3M249.71 753v2M256.74 753v2M261.72 753v2M265.59 753v2M268.75 753v2M271.42 753v2M273.73 753v2M275.77 753v2M277.6 753v3M289.61 753v2M296.64 753v2M301.62 753v2M305.49 753v2M308.65 753v2M311.32 753v2M313.63 753v2M315.67 753v2M317.5 753v3M329.51 753v2M336.54 753v2M341.52 753v2M345.39 753v2M348.55 753v2M351.22 753v2M353.53 753v2M355.57 753v2M357.4 753v3M369.41 753v2M376.44 753v2M381.42 753v2M385.29 753v2M388.45 753v2M391.12 753v2M393.43 753v2M395.47 753v2M397.3 753v2.6" stroke="#111" stroke-width="1" fill="none"/>
</g>
<g>
<clipPath id="cp40"><rect x="55" y="780" width="161.6" height="159.6"/></clipPath>
<g clip-path="url(#cp40)">
<path d="M55 937.7V937.7H55.62H56.25H56.88H57.5H58.12H58.75H59.38H60H60.62H61.25H61.88H62.5H63.12H63.75H64.38V922H65H65.62V937.7H66.25H66.88H67.5H68.12H68.75H69.38H70H70.62H71.25H71.88H72.5H73.12V922H73.75H74.38H75H75.62V937.7H76.25H76.88H77.5H78.12H78.75V906.3H79.38H80V937.7H80.62V906.3H81.25H81.88V922H82.5H83.12H83.75V937.7H84.38V890.6H85H85.62V937.7H86.25V922H86.88H87.5H88.12V937.7H88.75H89.38V906.3H90H90.62V890.6H91.25H91.88V906.3H92.5V843.5H93.12H93.75V906.3H94.38V874.9H95H95.62V906.3H96.25V922H96.88H97.5H98.12H98.75H99.38V890.6H100H100.62V922H101.25V874.9H101.88H102.5V922H103.12H103.75H104.38H105H105.62V906.3H106.25H106.88V922H107.5H108.12H108.75H109.38H110H110.62H111.25H111.88V906.3H112.5H113.12V922H113.75H114.38H115V937.7H115.62H116.25V922H116.88H117.5V937.7H118.12H118.75H119.38H120V922H120.62V937.7H121.25H121.88H122.5H123.12H123.75H124.38H125H125.62V922H126.25H126.88V937.7H127.5H128.12H128.75H129.38H130V922H130.62H131.25H131.88H132.5V937.7H133.12H133.75H134.38H135H135.62V922H136.25V937.7H136.88H137.5H138.12H138.75H139.38H140H140.62H141.25H141.88H142.5H143.12H143.75H144.38H145H145.62H146.25H146.88H147.5H148.12H148.75H149.38H150H150.62H151.25H151.88H152.5H153.12H153.75H154.38H155H155.62H156.25H156.88H157.5H158.12H158.75H159.38H160H160.62H161.25H161.88H162.5H163.12H163.75H164.38H165H165.62H166.25H166.88H167.5H168.12H168.75H169.38H170H170.62H171.25H171.88H172.5H173.12H173.75H174.38H175H175.62H176.25H176.88V922H177.5H178.12V937.7H178.75H179.38H180H180.62H181.25H181.88H182.5H183.12H183.75H184.38H185H185.62H186.25H186.88H187.5H188.12H188.75H189.38H190H190.62H191.25H191.88H192.5H193.12H193.75H194.38H195H195.62H196.25H196.88H197.5H198.12H198.75H199.38H200H200.62H201.25H201.88H202.5H203.12H203.75H204.38H205H205.62H206.25H206.88H207.5H208.12H208.75H209.38H210H210.62H211.25H211.88H212.5H213.12H213.75H214.38H215H215.62H216.25V937.7Z" fill="#565656"/>
<path d="M55 938.3V938.3H55.62V922.6H56.25H56.88H57.5H58.12V938.3H58.75H59.38H60H60.62H61.25H61.88H62.5H63.12H63.75H64.38H65H65.62H66.25H66.88H67.5H68.12H68.75H69.38H70H70.62H71.25H71.88H72.5H73.12V922.6H73.75V938.3H74.38H75V922.6H75.62H76.25V938.3H76.88H77.5H78.12H78.75H79.38V922.6H80V938.3H80.62V922.6H81.25H81.88H82.5H83.12H83.75V938.3H84.38H85H85.62H86.25H86.88V922.6H87.5H88.12H88.75V938.3H89.38H90H90.62V922.6H91.25H91.88V938.3H92.5H93.12H93.75H94.38V922.6H95H95.62H96.25H96.88H97.5H98.12H98.75H99.38V906.9H100H100.62V922.6H101.25V906.9H101.88H102.5H103.12V891.2H103.75V906.9H104.38V891.2H105H105.62V906.9H106.25H106.88H107.5H108.12V922.6H108.75V891.2H109.38H110H110.62H111.25H111.88H112.5V875.5H113.12H113.75H114.38V859.8H115V875.5H115.62V891.2H116.25H116.88H117.5H118.12H118.75H119.38V875.5H120V891.2H120.62H121.25H121.88H122.5H123.12V875.5H123.75H124.38H125V844.1H125.62V875.5H126.25H126.88V891.2H127.5H128.12H128.75H129.38H130H130.62V906.9H131.25H131.88H132.5H133.12H133.75H134.38V922.6H135H135.62V906.9H136.25V922.6H136.88H137.5H138.12H138.75H139.38H140H140.62V938.3H141.25H141.88H142.5H143.12H143.75V922.6H144.38H145H145.62H146.25V938.3H146.88H147.5H148.12V922.6H148.75H149.38V938.3H150H150.62H151.25H151.88H152.5H153.12H153.75H154.38H155H155.62H156.25H156.88H157.5H158.12H158.75H159.38H160H160.62H161.25H161.88H162.5H163.12H163.75H164.38H165H165.62H166.25H166.88H167.5H168.12H168.75H169.38H170H170.62H171.25H171.88H172.5H173.12H173.75H174.38H175H175.62H176.25H176.88H177.5H178.12H178.75H179.38H180H180.62H181.25H181.88H182.5H183.12H183.75H184.38H185H185.62H186.25H186.88H187.5H188.12H188.75H189.38H190H190.62H191.25H191.88H192.5H193.12H193.75H194.38H195H195.62H196.25H196.88H197.5H198.12H198.75H199.38H200H200.62H201.25H201.88H202.5H203.12H203.75H204.38H205H205.62H206.25H206.88H207.5H208.12H208.75H209.38H210H210.62H211.25H211.88H212.5H213.12H213.75H214.38H215H215.62H216.25V938.3" fill="none" stroke="#000" stroke-width="2.7" stroke-linejoin="miter"/>
</g>
<rect x="55" y="780" width="161.3" height="158" fill="none" stroke="#2b2b2b" stroke-width="1.25"/>
<line x1="54.5" y1="938.2" x2="216.8" y2="938.2" stroke="#000" stroke-width="1.3"/>
<path d="M55 938v4M67.12 938v2.8M74.2 938v2.8M79.23 938v2.8M83.13 938v2.8M86.32 938v2.8M89.02 938v2.8M91.35 938v2.8M93.41 938v2.8M95.25 938v4M107.37 938v2.8M114.45 938v2.8M119.48 938v2.8M123.38 938v2.8M126.57 938v2.8M129.27 938v2.8M131.6 938v2.8M133.66 938v2.8M135.5 938v4M147.62 938v2.8M154.7 938v2.8M159.73 938v2.8M163.63 938v2.8M166.82 938v2.8M169.52 938v2.8M171.85 938v2.8M173.91 938v2.8M175.75 938v4M187.87 938v2.8M194.95 938v2.8M199.98 938v2.8M203.88 938v2.8M207.07 938v2.8M209.77 938v2.8M212.1 938v2.8M214.16 938v2.8M216 938v3.8" stroke="#111" stroke-width="1" fill="none"/>
</g>
<g>
<clipPath id="cp41"><rect x="237.7" y="779.8" width="160.2" height="160"/></clipPath>
<g clip-path="url(#cp41)">
<path d="M237.7 937.9V937.9H238.32H238.95H239.57H240.2H240.82H241.45H242.07H242.7H243.32H243.95H244.57H245.2H245.82H246.45H247.07H247.7V922.2H248.32H248.95V937.9H249.57H250.2H250.82H251.45H252.07H252.7H253.32H253.95H254.57H255.2H255.82H256.45H257.07H257.7H258.32V922.2H258.95H259.57H260.2H260.82H261.45H262.07V906.5H262.7H263.32H263.95H264.57H265.2H265.82H266.45H267.07H267.7H268.32H268.95H269.57H270.2H270.82H271.45H272.07V890.8H272.7V906.5H273.32H273.95V890.8H274.57V843.7H275.2H275.82V890.8H276.45H277.07H277.7H278.32V906.5H278.95V890.8H279.57V906.5H280.2H280.82V922.2H281.45H282.07H282.7H283.32H283.95H284.57H285.2H285.82H286.45H287.07H287.7V890.8H288.32H288.95V922.2H289.57H290.2H290.82H291.45H292.07H292.7H293.32H293.95H294.57H295.2H295.82H296.45H297.07H297.7H298.32H298.95H299.57H300.2H300.82H301.45H302.07H302.7H303.32H303.95H304.57H305.2H305.82H306.45H307.07H307.7H308.32V937.9H308.95H309.57H310.2H310.82H311.45H312.07H312.7H313.32H313.95H314.57H315.2H315.82H316.45H317.07H317.7H318.32H318.95H319.57H320.2H320.82H321.45H322.07H322.7H323.32H323.95H324.57H325.2H325.82H326.45H327.07H327.7H328.32H328.95H329.57H330.2H330.82H331.45H332.07H332.7H333.32H333.95H334.57H335.2H335.82H336.45H337.07H337.7H338.32H338.95H339.57H340.2H340.82H341.45H342.07H342.7H343.32H343.95H344.57H345.2H345.82H346.45H347.07H347.7H348.32H348.95H349.57H350.2H350.82H351.45H352.07H352.7H353.32H353.95H354.57H355.2H355.82H356.45H357.07H357.7H358.32H358.95H359.57V922.2H360.2H360.82V937.9H361.45H362.07H362.7H363.32H363.95H364.57H365.2H365.82H366.45H367.07H367.7H368.32H368.95H369.57H370.2H370.82H371.45H372.07H372.7H373.32H373.95H374.57H375.2H375.82H376.45H377.07H377.7H378.32H378.95H379.57H380.2H380.82H381.45H382.07H382.7H383.32H383.95H384.57H385.2H385.82H386.45H387.07H387.7H388.32H388.95H389.57H390.2H390.82H391.45H392.07H392.7H393.32H393.95H394.57H395.2H395.82H396.45H397.07V937.9Z" fill="#565656"/>
<path d="M237.7 938.5V938.5H238.32V922.8H238.95H239.57H240.2H240.82V938.5H241.45H242.07H242.7H243.32H243.95H244.57H245.2H245.82H246.45H247.07H247.7H248.32H248.95H249.57H250.2H250.82H251.45H252.07H252.7H253.32V922.8H253.95H254.57H255.2H255.82V938.5H256.45H257.07V907.1H257.7H258.32H258.95H259.57H260.2H260.82V891.4H261.45H262.07V907.1H262.7V891.4H263.32V907.1H263.95H264.57V891.4H265.2H265.82V907.1H266.45H267.07V875.7H267.7H268.32H268.95V860H269.57V875.7H270.2V907.1H270.82V891.4H271.45H272.07H272.7H273.32H273.95H274.57V875.7H275.2H275.82H276.45H277.07H277.7H278.32V907.1H278.95H279.57H280.2H280.82H281.45H282.07V875.7H282.7H283.32V907.1H283.95H284.57H285.2H285.82H286.45H287.07V891.4H287.7V907.1H288.32H288.95H289.57V891.4H290.2H290.82V922.8H291.45V907.1H292.07H292.7V891.4H293.32H293.95V922.8H294.57H295.2V891.4H295.82V907.1H296.45H297.07H297.7H298.32H298.95H299.57V922.8H300.2H300.82V938.5H301.45H302.07H302.7H303.32H303.95H304.57V922.8H305.2H305.82H306.45V938.5H307.07H307.7H308.32H308.95H309.57H310.2V922.8H310.82V938.5H311.45H312.07V922.8H312.7H313.32V938.5H313.95H314.57V922.8H315.2H315.82H316.45V938.5H317.07H317.7H318.32H318.95V922.8H319.57H320.2H320.82V938.5H321.45H322.07H322.7H323.32H323.95H324.57H325.2H325.82H326.45H327.07H327.7H328.32H328.95H329.57V922.8H330.2H330.82V938.5H331.45H332.07H332.7H333.32H333.95H334.57H335.2H335.82H336.45H337.07H337.7H338.32H338.95H339.57H340.2H340.82H341.45H342.07H342.7H343.32H343.95H344.57H345.2H345.82H346.45H347.07H347.7H348.32H348.95H349.57H350.2H350.82H351.45H352.07H352.7H353.32H353.95H354.57H355.2H355.82H356.45H357.07H357.7H358.32H358.95H359.57H360.2H360.82H361.45H362.07H362.7H363.32H363.95H364.57H365.2H365.82H366.45H367.07H367.7H368.32H368.95H369.57H370.2H370.82V922.8H371.45H372.07V938.5H372.7H373.32H373.95H374.57H375.2H375.82H376.45H377.07H377.7H378.32H378.95H379.57H380.2H380.82H381.45H382.07H382.7H383.32H383.95H384.57H385.2H385.82H386.45H387.07H387.7H388.32H388.95H389.57H390.2H390.82H391.45H392.07H392.7H393.32H393.95H394.57H395.2H395.82H396.45H397.07V938.5" fill="none" stroke="#000" stroke-width="2.7" stroke-linejoin="miter"/>
</g>
<rect x="237.7" y="779.8" width="159.9" height="158.4" fill="none" stroke="#2b2b2b" stroke-width="1.25"/>
<line x1="237.2" y1="938.4" x2="398.1" y2="938.4" stroke="#000" stroke-width="1.3"/>
<path d="M237.7 938.2v4M249.71 938.2v2.8M256.74 938.2v2.8M261.72 938.2v2.8M265.59 938.2v2.8M268.75 938.2v2.8M271.42 938.2v2.8M273.73 938.2v2.8M275.77 938.2v2.8M277.6 938.2v4M289.61 938.2v2.8M296.64 938.2v2.8M301.62 938.2v2.8M305.49 938.2v2.8M308.65 938.2v2.8M311.32 938.2v2.8M313.63 938.2v2.8M315.67 938.2v2.8M317.5 938.2v4M329.51 938.2v2.8M336.54 938.2v2.8M341.52 938.2v2.8M345.39 938.2v2.8M348.55 938.2v2.8M351.22 938.2v2.8M353.53 938.2v2.8M355.57 938.2v2.8M357.4 938.2v4M369.41 938.2v2.8M376.44 938.2v2.8M381.42 938.2v2.8M385.29 938.2v2.8M388.45 938.2v2.8M391.12 938.2v2.8M393.43 938.2v2.8M395.47 938.2v2.8M397.3 938.2v3.8" stroke="#111" stroke-width="1" fill="none"/>
</g>
<path d="M55 164h-4.9M55 154.87h-2.6M55 145.74h-2.6M55 136.61h-2.6M55 127.48h-2.6M55 118.35h-4.9M55 109.22h-2.6M55 100.09h-2.6M55 90.96h-2.6M55 81.83h-2.6M55 72.7h-4.9M55 63.57h-2.6M55 54.44h-2.6M55 45.31h-2.6M55 36.18h-2.6M55 27.05h-4.9M55 17.92h-2.6M55 8.79h-2.6" stroke="#1a1a1a" stroke-width="1" fill="none"/>
<line x1="54.8" y1="3.5" x2="54.8" y2="164" stroke="#1a1a1a" stroke-width="1.5"/>
<text transform="translate(47 164) rotate(-90)" x="-2.5" y="0" class="tk" font-size="10" textLength="5" lengthAdjust="spacingAndGlyphs">0</text>
<text transform="translate(47 118.35) rotate(-90)" x="-5" y="0" class="tk" font-size="10" textLength="10" lengthAdjust="spacingAndGlyphs">10</text>
<text transform="translate(47 72.7) rotate(-90)" x="-5" y="0" class="tk" font-size="10" textLength="10" lengthAdjust="spacingAndGlyphs">20</text>
<text transform="translate(47 27.05) rotate(-90)" x="-5" y="0" class="tk" font-size="10" textLength="10" lengthAdjust="spacingAndGlyphs">30</text>
<path d="M55 360.3h-4.9M55 354.9h-2.6M55 349.5h-2.6M55 344.1h-2.6M55 338.7h-2.6M55 333.3h-4.9M55 327.9h-2.6M55 322.5h-2.6M55 317.1h-2.6M55 311.7h-2.6M55 306.3h-4.9M55 300.9h-2.6M55 295.5h-2.6M55 290.1h-2.6M55 284.7h-2.6M55 279.3h-4.9M55 273.9h-2.6M55 268.5h-2.6M55 263.1h-2.6M55 257.7h-2.6M55 252.3h-4.9M55 246.9h-2.6M55 241.5h-2.6M55 236.1h-2.6M55 230.7h-2.6M55 225.3h-4.9M55 219.9h-2.6M55 214.5h-2.6M55 209.1h-2.6M55 203.7h-2.6M55 198.3h-4.9" stroke="#1a1a1a" stroke-width="1" fill="none"/>
<line x1="54.8" y1="198" x2="54.8" y2="360.3" stroke="#1a1a1a" stroke-width="1.5"/>
<text transform="translate(48 360.3) rotate(-90)" x="-2.5" y="0" class="tk" font-size="10" textLength="5" lengthAdjust="spacingAndGlyphs">0</text>
<text transform="translate(48 333.3) rotate(-90)" x="-2.5" y="0" class="tk" font-size="10" textLength="5" lengthAdjust="spacingAndGlyphs">5</text>
<text transform="translate(48 306.3) rotate(-90)" x="-5" y="0" class="tk" font-size="10" textLength="10" lengthAdjust="spacingAndGlyphs">10</text>
<text transform="translate(48 279.3) rotate(-90)" x="-5" y="0" class="tk" font-size="10" textLength="10" lengthAdjust="spacingAndGlyphs">15</text>
<text transform="translate(48 252.3) rotate(-90)" x="-5" y="0" class="tk" font-size="10" textLength="10" lengthAdjust="spacingAndGlyphs">20</text>
<text transform="translate(48 225.3) rotate(-90)" x="-5" y="0" class="tk" font-size="10" textLength="10" lengthAdjust="spacingAndGlyphs">25</text>
<text transform="translate(48 198.3) rotate(-90)" x="-5" y="0" class="tk" font-size="10" textLength="10" lengthAdjust="spacingAndGlyphs">30</text>
<path d="M55 553.8h-4.9M55 547.52h-2.6M55 541.24h-2.6M55 534.96h-2.6M55 528.68h-2.6M55 522.4h-4.9M55 516.12h-2.6M55 509.84h-2.6M55 503.56h-2.6M55 497.28h-2.6M55 491h-4.9M55 484.72h-2.6M55 478.44h-2.6M55 472.16h-2.6M55 465.88h-2.6M55 459.6h-4.9M55 453.32h-2.6M55 447.04h-2.6M55 440.76h-2.6M55 434.48h-2.6M55 428.2h-4.9M55 421.92h-2.6M55 415.64h-2.6M55 409.36h-2.6M55 403.08h-2.6M55 396.8h-4.9" stroke="#1a1a1a" stroke-width="1" fill="none"/>
<line x1="54.8" y1="396.5" x2="54.8" y2="553.8" stroke="#1a1a1a" stroke-width="1.5"/>
<text transform="translate(48 553.8) rotate(-90)" x="-2.2" y="0" class="tk" font-size="8.6" textLength="4.4" lengthAdjust="spacingAndGlyphs">0</text>
<text transform="translate(48 522.4) rotate(-90)" x="-2.2" y="0" class="tk" font-size="8.6" textLength="4.4" lengthAdjust="spacingAndGlyphs">2</text>
<text transform="translate(48 491) rotate(-90)" x="-2.2" y="0" class="tk" font-size="8.6" textLength="4.4" lengthAdjust="spacingAndGlyphs">4</text>
<text transform="translate(48 459.6) rotate(-90)" x="-2.2" y="0" class="tk" font-size="8.6" textLength="4.4" lengthAdjust="spacingAndGlyphs">6</text>
<text transform="translate(48 428.2) rotate(-90)" x="-2.2" y="0" class="tk" font-size="8.6" textLength="4.4" lengthAdjust="spacingAndGlyphs">8</text>
<text transform="translate(48 396.8) rotate(-90)" x="-4.4" y="0" class="tk" font-size="8.6" textLength="8.8" lengthAdjust="spacingAndGlyphs">10</text>
<path d="M55 752.2h-4.9M55 744.1h-2.6M55 736h-2.6M55 727.9h-2.6M55 719.8h-2.6M55 711.7h-4.9M55 703.6h-2.6M55 695.5h-2.6M55 687.4h-2.6M55 679.3h-2.6M55 671.2h-4.9M55 663.1h-2.6M55 655h-2.6M55 646.9h-2.6M55 638.8h-2.6M55 630.7h-4.9M55 622.6h-2.6M55 614.5h-2.6M55 606.4h-2.6M55 598.3h-2.6M55 590.2h-4.9" stroke="#1a1a1a" stroke-width="1" fill="none"/>
<line x1="54.8" y1="589.5" x2="54.8" y2="752.2" stroke="#1a1a1a" stroke-width="1.5"/>
<text transform="translate(48 752.2) rotate(-90)" x="-2.4" y="0" class="tk" font-size="10" textLength="4.8" lengthAdjust="spacingAndGlyphs">0</text>
<text transform="translate(48 711.7) rotate(-90)" x="-2.4" y="0" class="tk" font-size="10" textLength="4.8" lengthAdjust="spacingAndGlyphs">5</text>
<text transform="translate(48 671.2) rotate(-90)" x="-4.8" y="0" class="tk" font-size="10" textLength="9.6" lengthAdjust="spacingAndGlyphs">10</text>
<text transform="translate(48 630.7) rotate(-90)" x="-4.8" y="0" class="tk" font-size="10" textLength="9.6" lengthAdjust="spacingAndGlyphs">15</text>
<text transform="translate(48 590.2) rotate(-90)" x="-4.8" y="0" class="tk" font-size="10" textLength="9.6" lengthAdjust="spacingAndGlyphs">20</text>
<path d="M55 938h-4.9M55 931.72h-2.6M55 925.44h-2.6M55 919.16h-2.6M55 912.88h-2.6M55 906.6h-4.9M55 900.32h-2.6M55 894.04h-2.6M55 887.76h-2.6M55 881.48h-2.6M55 875.2h-4.9M55 868.92h-2.6M55 862.64h-2.6M55 856.36h-2.6M55 850.08h-2.6M55 843.8h-4.9M55 837.52h-2.6M55 831.24h-2.6M55 824.96h-2.6M55 818.68h-2.6M55 812.4h-4.9M55 806.12h-2.6M55 799.84h-2.6M55 793.56h-2.6M55 787.28h-2.6M55 781h-4.9" stroke="#1a1a1a" stroke-width="1" fill="none"/>
<line x1="54.8" y1="780" x2="54.8" y2="938" stroke="#1a1a1a" stroke-width="1.5"/>
<text transform="translate(47 938) rotate(-90)" x="-2.5" y="0" class="tk" font-size="9.6" textLength="5" lengthAdjust="spacingAndGlyphs">0</text>
<text transform="translate(47 906.6) rotate(-90)" x="-2.5" y="0" class="tk" font-size="9.6" textLength="5" lengthAdjust="spacingAndGlyphs">2</text>
<text transform="translate(47 875.2) rotate(-90)" x="-2.5" y="0" class="tk" font-size="9.6" textLength="5" lengthAdjust="spacingAndGlyphs">4</text>
<text transform="translate(47 843.8) rotate(-90)" x="-2.5" y="0" class="tk" font-size="9.6" textLength="5" lengthAdjust="spacingAndGlyphs">6</text>
<text transform="translate(47 812.4) rotate(-90)" x="-2.5" y="0" class="tk" font-size="9.6" textLength="5" lengthAdjust="spacingAndGlyphs">8</text>
<text transform="translate(47 781) rotate(-90)" x="-5" y="0" class="tk" font-size="9.6" textLength="10" lengthAdjust="spacingAndGlyphs">10</text>
<text x="48.3" y="954.4" class="xl" textLength="9.4" lengthAdjust="spacingAndGlyphs">10</text>
<text x="58.3" y="948.6" class="xs" textLength="5.2" lengthAdjust="spacingAndGlyphs">0</text>
<text x="88.55" y="954.4" class="xl" textLength="9.4" lengthAdjust="spacingAndGlyphs">10</text>
<text x="98.55" y="948.6" class="xs" textLength="5.2" lengthAdjust="spacingAndGlyphs">1</text>
<text x="128.8" y="954.4" class="xl" textLength="9.4" lengthAdjust="spacingAndGlyphs">10</text>
<text x="138.8" y="948.6" class="xs" textLength="5.2" lengthAdjust="spacingAndGlyphs">2</text>
<text x="169.05" y="954.4" class="xl" textLength="9.4" lengthAdjust="spacingAndGlyphs">10</text>
<text x="179.05" y="948.6" class="xs" textLength="5.2" lengthAdjust="spacingAndGlyphs">3</text>
<text x="209.3" y="954.4" class="xl" textLength="9.4" lengthAdjust="spacingAndGlyphs">10</text>
<text x="219.3" y="948.6" class="xs" textLength="5.2" lengthAdjust="spacingAndGlyphs">4</text>
<text x="231" y="954.4" class="xl" textLength="9.4" lengthAdjust="spacingAndGlyphs">10</text>
<text x="241" y="948.6" class="xs" textLength="5.2" lengthAdjust="spacingAndGlyphs">0</text>
<text x="270.9" y="954.4" class="xl" textLength="9.4" lengthAdjust="spacingAndGlyphs">10</text>
<text x="280.9" y="948.6" class="xs" textLength="5.2" lengthAdjust="spacingAndGlyphs">1</text>
<text x="310.8" y="954.4" class="xl" textLength="9.4" lengthAdjust="spacingAndGlyphs">10</text>
<text x="320.8" y="948.6" class="xs" textLength="5.2" lengthAdjust="spacingAndGlyphs">2</text>
<text x="350.7" y="954.4" class="xl" textLength="9.4" lengthAdjust="spacingAndGlyphs">10</text>
<text x="360.7" y="948.6" class="xs" textLength="5.2" lengthAdjust="spacingAndGlyphs">3</text>
<text x="390.6" y="954.4" class="xl" textLength="9.4" lengthAdjust="spacingAndGlyphs">10</text>
<text x="400.6" y="948.6" class="xs" textLength="5.2" lengthAdjust="spacingAndGlyphs">4</text>
<text x="103.3" y="21.9" class="mr" textLength="109.3" lengthAdjust="spacingAndGlyphs">mean ratio: 5.2</text>
<text x="281.8" y="21.6" class="mr" textLength="109.2" lengthAdjust="spacingAndGlyphs">mean ratio: 2.6</text>
<text x="102.9" y="214.8" class="mr" textLength="109.6" lengthAdjust="spacingAndGlyphs">mean ratio: 2.4</text>
<text x="281.8" y="215.2" class="mr" textLength="108.8" lengthAdjust="spacingAndGlyphs">mean ratio: 1.1</text>
<text x="108.9" y="411.4" class="mr" textLength="96.7" lengthAdjust="spacingAndGlyphs">mean ratio: 2</text>
<text x="281.8" y="411.9" class="mr" textLength="108.2" lengthAdjust="spacingAndGlyphs">mean ratio: 1.1</text>
<text x="111.8" y="606.6" class="mr" textLength="97.4" lengthAdjust="spacingAndGlyphs">mean ratio: 4</text>
<text x="283.8" y="607" class="mr" textLength="109.7" lengthAdjust="spacingAndGlyphs">mean ratio: 1.6</text>
<text x="102.2" y="799.4" class="mr" textLength="110.8" lengthAdjust="spacingAndGlyphs">mean ratio: 1.9</text>
<text x="289.3" y="799.9" class="mr" textLength="93.3" lengthAdjust="spacingAndGlyphs">mean ratio: 1</text>
<text x="422.8" y="86" class="nm" font-size="20.3" textLength="94" lengthAdjust="spacingAndGlyphs">Healthy</text>
<text x="423.4" y="110" class="nm" font-size="20.3" textLength="88.2" lengthAdjust="spacingAndGlyphs">control</text>
<text x="423" y="270" class="nm" textLength="74" lengthAdjust="spacingAndGlyphs">WAS2</text>
<text x="423" y="466.4" class="nm" textLength="74" lengthAdjust="spacingAndGlyphs">WAS3</text>
<text x="423" y="646" class="nm" textLength="89" lengthAdjust="spacingAndGlyphs">WAS19</text>
<text x="426" y="839.8" class="nm" textLength="89" lengthAdjust="spacingAndGlyphs">WAS28</text>
<g transform="translate(26.7 553) rotate(-90)" class="big"><text x="-1.7 17.7 40.2 59.6" y="0">CD56</text><text x="82.3" y="-3.4" font-size="20.5" stroke="#000" stroke-width="1.1">+</text><text x="98.6 118.5 141.6" y="0">CD3</text><text x="164.3" y="-8.6" font-size="20" stroke="#000" stroke-width="0.9">-</text></g>
<text x="93.3" y="979.3" class="cx" textLength="82" lengthAdjust="spacingAndGlyphs">CXCL12</text>
<text x="278.3" y="979.3" class="cx" textLength="79.5" lengthAdjust="spacingAndGlyphs">CX3CL1</text>
<line x1="57" y1="989.8" x2="397" y2="989.8" stroke="#000" stroke-width="2.2"/>
<text x="152" y="1018.2" class="mab" textLength="146" lengthAdjust="spacingAndGlyphs">mAb 327C</text>
<rect x="7.6" y="1037.8" width="13.2" height="12.2" fill="#565656"/>
<text x="29.3" y="1051.3" class="lg" textLength="140.5" lengthAdjust="spacingAndGlyphs">unstimulated</text>
<rect x="8.1" y="1064.3" width="12.4" height="11.4" fill="#fff" stroke="#777" stroke-width="1"/>
<text x="29.5" y="1075.3" class="lg" textLength="112.5" lengthAdjust="spacingAndGlyphs">stimulated</text>
</svg>
</body>
</html>
